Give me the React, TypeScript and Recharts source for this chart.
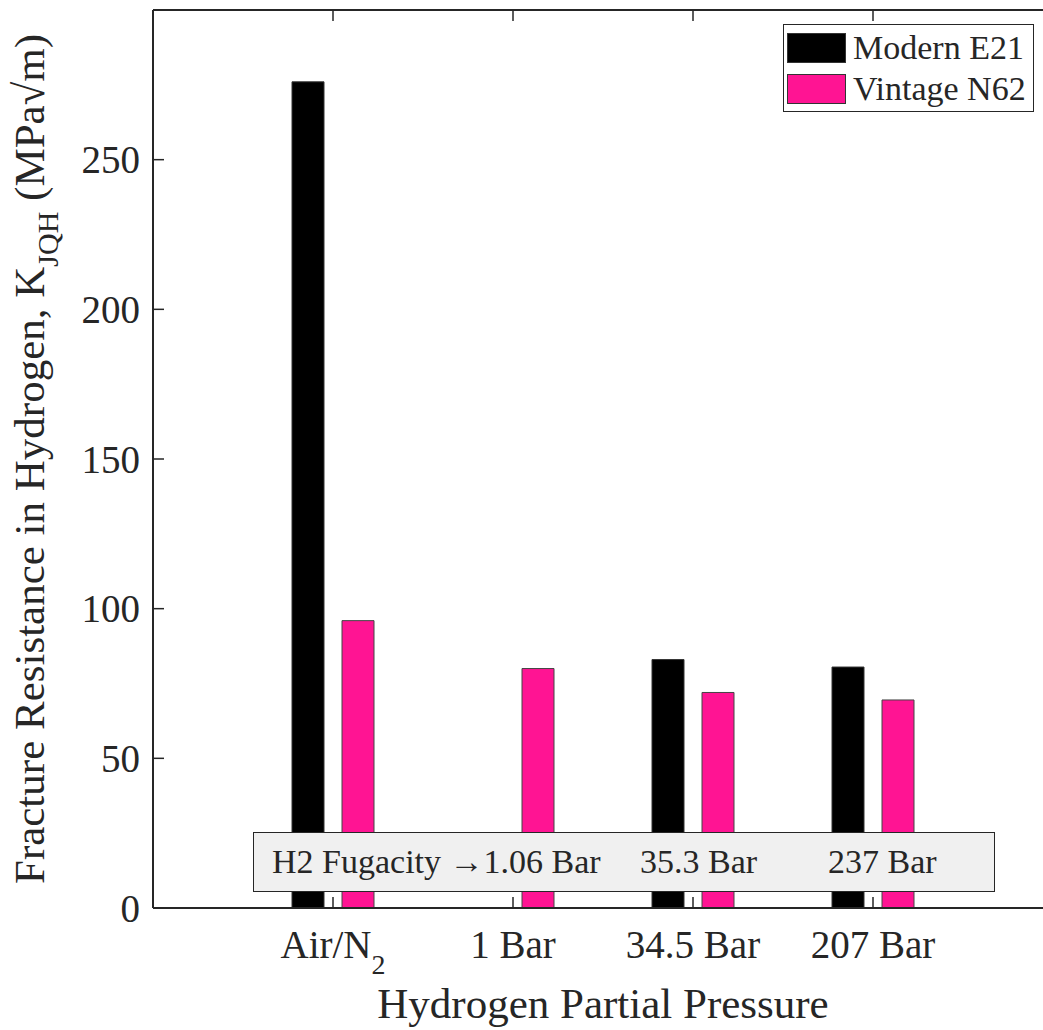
import { BarChart, Bar, XAxis, YAxis, Legend } from "recharts";

// values
const categories = ["Air/N_2", "1 Bar", "34.5 Bar", "207 Bar"];
const modernE21 = [276, null, 83, 80.5];
const vintageN62 = [96, 80, 72, 69.5];
const yTicks = [0, 50, 100, 150, 200, 250];
const fugacityLabels = ["H2 Fugacity \u21921.06 Bar", "35.3 Bar", "237 Bar"];

const data = categories.map((cat, i) => ({
  cat,
  modern: modernE21[i],
  vintage: vintageN62[i],
}));

const FONT = '"Liberation Serif", "Times New Roman", serif';
const INK = "#262626";
const PINK = "#ff1493";

function LeftTick({ x, y, payload }: any) {
  return (
    <g>
      <line x1={x} x2={x + 11} y1={y} y2={y} stroke={INK} strokeWidth={1.5} />
      <text x={x - 13} y={y} dy="0.35em" textAnchor="end" fill={INK} fontSize={39} fontFamily={FONT}>
        {payload.value}
      </text>
    </g>
  );
}

function RightTick({ x, y }: any) {
  return <line x1={x} x2={x - 11} y1={y} y2={y} stroke={INK} strokeWidth={1.5} />;
}

function BottomTick({ x, y, payload }: any) {
  const [main, sub] = String(payload.value).split("_");
  return (
    <g>
      <line x1={x} x2={x} y1={y} y2={y - 11} stroke={INK} strokeWidth={1.5} />
      <text x={x} y={y + 50} textAnchor="middle" fill={INK} fontSize={39} fontFamily={FONT}>
        {main}
        {sub && (
          <tspan fontSize={28} dy={16}>
            {sub}
          </tspan>
        )}
      </text>
    </g>
  );
}

function TopTick({ x, y }: any) {
  return <line x1={x} x2={x} y1={y} y2={y + 11} stroke={INK} strokeWidth={1.5} />;
}

function YLabel() {
  return (
    <text
      transform="translate(44, 459) rotate(-90)"
      textAnchor="middle"
      fill={INK}
      fontSize={43}
      fontFamily={FONT}
    >
      Fracture Resistance in Hydrogen, K
      <tspan fontSize={30} dy={14}>
        JQH
      </tspan>
      <tspan dy={-14}> (MPa{"\u221A"}m)</tspan>
    </text>
  );
}

function LegendBox({ payload }: any) {
  return (
    <div
      style={{
        width: 251,
        height: 88,
        boxSizing: "border-box",
        border: `1.5px solid ${INK}`,
        background: "#fff",
        fontFamily: FONT,
        fontSize: 34,
        color: INK,
        paddingTop: 2,
      }}
    >
      {(payload || []).map((p: any) => (
        <div key={p.value} style={{ display: "flex", alignItems: "center", height: 41 }}>
          <div
            style={{
              width: 59,
              height: 30,
              marginLeft: 3,
              marginRight: 7,
              background: p.color,
              boxSizing: "border-box",
              border: "1px solid #333",
            }}
          />
          <span style={{ lineHeight: 1 }}>{p.value}</span>
        </div>
      ))}
    </div>
  );
}

export default function App() {
  return (
    <div
      style={{
        position: "absolute",
        left: 0,
        top: 0,
        width: 1043,
        height: 1030,
        overflow: "hidden",
        background: "#fff",
      }}
    >
      <BarChart
        width={1070}
        height={1030}
        data={data}
        margin={{ top: 9, right: 0, left: 0, bottom: 0 }}
        barSize={32}
        barGap={18}
      >
        <XAxis
          dataKey="cat"
          height={122}
          padding={{ left: 90, right: 90 }}
          tickSize={0}
          tickMargin={0}
          tickLine={false}
          axisLine={{ stroke: INK, strokeWidth: 2 }}
          tick={<BottomTick />}
          interval={0}
          label={{
            value: "Hydrogen Partial Pressure",
            position: "insideBottom",
            offset: 12,
            style: { fill: INK, fontSize: 43, fontFamily: FONT },
          }}
        />
        <XAxis
          xAxisId="top"
          dataKey="cat"
          orientation="top"
          height={1}
          padding={{ left: 90, right: 90 }}
          tickSize={0}
          tickMargin={0}
          tickLine={false}
          axisLine={{ stroke: INK, strokeWidth: 2 }}
          tick={<TopTick />}
          interval={0}
        />
        <YAxis
          width={153}
          domain={[0, 300]}
          ticks={yTicks}
          tickSize={0}
          tickMargin={0}
          tickLine={false}
          axisLine={{ stroke: INK, strokeWidth: 2 }}
          tick={<LeftTick />}
          label={<YLabel />}
        />
        <YAxis
          yAxisId="right"
          orientation="right"
          width={17}
          domain={[0, 300]}
          ticks={yTicks}
          tickSize={0}
          tickMargin={0}
          tickLine={false}
          axisLine={{ stroke: INK, strokeWidth: 2 }}
          tick={<RightTick />}
        />
        <Legend
          layout="vertical"
          align="center"
          verticalAlign="middle"
          wrapperStyle={{ position: "absolute", left: 783, top: 24, width: "auto", height: "auto" }}
          content={<LegendBox />}
        />
        <Bar dataKey="modern" name="Modern E21" fill="#000" stroke="#333" strokeWidth={1} isAnimationActive={false} />
        <Bar dataKey="vintage" name="Vintage N62" fill={PINK} stroke="#444" strokeWidth={1} isAnimationActive={false} />
      </BarChart>
      <div
        style={{
          position: "absolute",
          left: 253,
          top: 832,
          width: 742,
          height: 60,
          boxSizing: "border-box",
          border: `1.5px solid ${INK}`,
          background: "#f0f0f0",
          fontFamily: FONT,
          fontSize: 34,
          color: INK,
        }}
      >
        {fugacityLabels.map((t, i) => (
          <span
            key={t}
            style={{ position: "absolute", left: [18, 386, 574][i], top: 12, lineHeight: 1, whiteSpace: "nowrap" }}
          >
            {t}
          </span>
        ))}
      </div>
    </div>
  );
}
